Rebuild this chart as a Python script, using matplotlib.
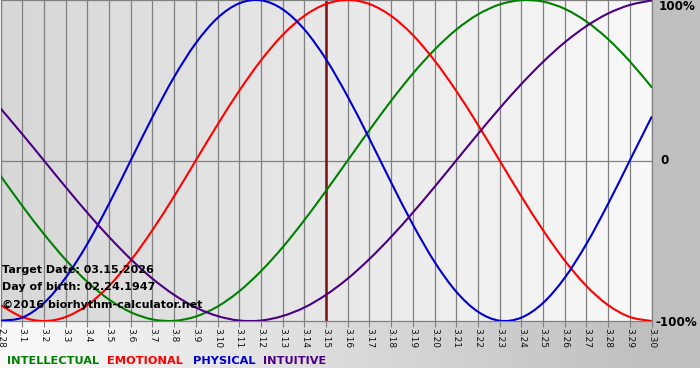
import numpy as np
import matplotlib.pyplot as plt
from matplotlib.path import Path
from matplotlib.patches import PathPatch

# day labels along the bottom (2.28 .. 3.30)
day_labels = ["2.28", "3.1", "3.2", "3.3", "3.4", "3.5", "3.6", "3.7", "3.8", "3.9",
              "3.10", "3.11", "3.12", "3.13", "3.14", "3.15", "3.16", "3.17", "3.18",
              "3.19", "3.20", "3.21", "3.22", "3.23", "3.24", "3.25", "3.26", "3.27",
              "3.28", "3.29", "3.30"]

# daily values (-1 .. 1)
physical = [-0.998, -0.979, -0.888, -0.731, -0.520, -0.270, 0.000, 0.270, 0.520, 0.731,
            0.888, 0.979, 0.998, 0.942, 0.817, 0.631, 0.398, 0.136, -0.136, -0.398,
            -0.631, -0.817, -0.942, -0.998, -0.979, -0.888, -0.731, -0.520, -0.270,
            0.000, 0.270]
emotional = [-0.901, -0.975, -1.000, -0.975, -0.901, -0.782, -0.623, -0.434, -0.223, 0.000,
             0.223, 0.434, 0.623, 0.782, 0.901, 0.975, 1.000, 0.975, 0.901, 0.782,
             0.623, 0.434, 0.223, 0.000, -0.223, -0.434, -0.623, -0.782, -0.901,
             -0.975, -1.000]
intellectual = [-0.095, -0.282, -0.458, -0.618, -0.756, -0.866, -0.945, -0.990, -0.999, -0.972,
                -0.910, -0.815, -0.690, -0.541, -0.372, -0.189, 0.000, 0.189, 0.372, 0.541,
                0.690, 0.815, 0.910, 0.972, 0.999, 0.990, 0.945, 0.866, 0.756, 0.618,
                0.458]
intuitive = [0.325, 0.165, 0.000, -0.165, -0.325, -0.476, -0.614, -0.736, -0.837, -0.916,
             -0.969, -0.997, -0.997, -0.969, -0.916, -0.837, -0.736, -0.614, -0.476, -0.325,
             -0.165, 0.000, 0.165, 0.325, 0.476, 0.614, 0.736, 0.837, 0.916, 0.969,
             0.997]

target_index = 15  # 3.15

c_int = "#008000"
c_emo = "#ff0000"
c_phy = "#0000cc"
c_itu = "#4b0082"


def smooth_line(ax, xs, ys, color):
    # draw the daily points as one smooth bezier path (catmull-rom style)
    pts = np.column_stack([xs, ys]).astype(float)
    ext = np.vstack([pts[0], pts, pts[-1]])
    verts = [pts[0]]
    codes = [Path.MOVETO]
    for i in range(1, len(ext) - 2):
        p0, p1, p2, p3 = ext[i - 1], ext[i], ext[i + 1], ext[i + 2]
        verts += [p1 + (p2 - p0) / 6, p2 - (p3 - p1) / 6, p2]
        codes += [Path.CURVE4] * 3
    ax.add_patch(PathPatch(Path(verts, codes), fill=False, edgecolor=color,
                           lw=1.5, zorder=3, capstyle="round"))


W, H = 700, 380
fig = plt.figure(figsize=(W / 100, H / 100), dpi=100, facecolor="white")

# outer gray gradient background (white on the left to gray on the right)
bg = fig.add_axes([0, 12 / H, 1, 368 / H], zorder=0)
g = np.clip(0.98 - np.linspace(0, 1, 700) * (0.23 / 0.93), 0.75, 1.0)
bg.imshow(np.dstack([g, g, g]).reshape(1, 700, 3), aspect="auto",
          extent=[0, 1, 0, 1])
bg.set_axis_off()

# plot area
ax = fig.add_axes([0.5 / W, (H - 321) / H, 651 / W, 321 / H], zorder=1)
x = np.arange(len(day_labels))
gi = np.linspace(0.845, 0.975, 256)
ax.imshow(np.dstack([gi, gi, gi]).reshape(1, 256, 3), aspect="auto",
          extent=[0, 30, -1, 1], zorder=0)
ax.set_xlim(0, 30)
ax.set_ylim(-1, 1)

for i in x:
    ax.axvline(i, color="#808080", lw=0.9, zorder=1)
ax.axhline(0, color="#808080", lw=0.9, zorder=1)

ax.axvline(target_index, color="#7a1010", lw=1.8, zorder=2)

smooth_line(ax, x, intellectual, c_int)
smooth_line(ax, x, emotional, c_emo)
smooth_line(ax, x, physical, c_phy)
smooth_line(ax, x, intuitive, c_itu)

for s in ax.spines.values():
    s.set_color("#808080")
    s.set_linewidth(0.9)

ax.set_xticks(x)
ax.set_xticklabels(day_labels, rotation=270, fontsize=6.5, color="#111111")
ax.tick_params(axis="x", length=4, color="#808080", pad=1)
ax.set_yticks([])

# right side percentage labels
fig.text(659 / W, 1 - 7 / H, "100%", fontsize=8.6, fontweight="bold", va="center", ha="left")
fig.text(660 / W, 1 - 161 / H, "0", fontsize=8.6, fontweight="bold", va="center", ha="left")
fig.text(655 / W, 1 - 322 / H, "-100%", fontsize=8.6, fontweight="bold", va="center", ha="left")

# info text
info = ["Target Date: 03.15.2026", "Day of birth: 02.24.1947", "\u00a92016 biorhythm-calculator.net"]
for k, t in enumerate(info):
    fig.text(2 / W, 1 - (270 + k * 17.5) / H, t, fontsize=8.0, fontweight="bold",
             va="center", ha="left", zorder=5)

# legend
legend = [("INTELLECTUAL", c_int, 7), ("EMOTIONAL", c_emo, 107),
          ("PHYSICAL", c_phy, 193), ("INTUITIVE", c_itu, 263)]
for name, col, px in legend:
    fig.text(px / W, 1 - 361 / H, name, fontsize=8.2, fontweight="bold", color=col,
             va="center", ha="left")

fig.savefig("out.png", dpi=100, facecolor="white")
